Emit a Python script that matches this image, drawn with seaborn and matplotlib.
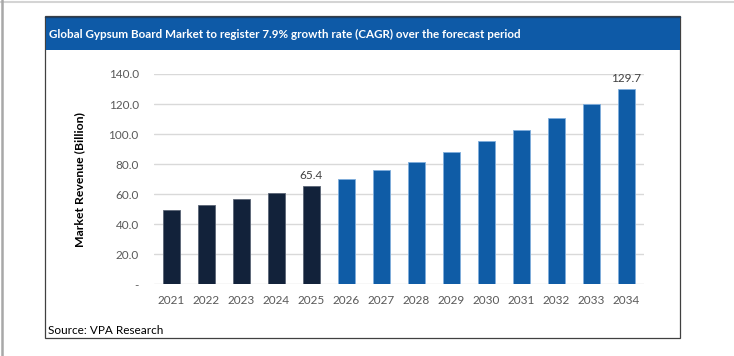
import matplotlib
matplotlib.use("Agg")
import matplotlib.pyplot as plt
import pandas as pd
import seaborn as sns
from matplotlib.patches import Rectangle
from matplotlib.lines import Line2D

# Data
years = ["2021", "2022", "2023", "2024", "2025", "2026", "2027",
         "2028", "2029", "2030", "2031", "2032", "2033", "2034"]
revenue = [49.3, 52.7, 56.7, 60.9, 65.4, 70.2, 75.9,
           81.6, 88.3, 95.3, 102.9, 111.0, 119.8, 129.7]
phase = ["Historic"] * 5 + ["Forecast"] * 9
labelled = {"2025": "65.4", "2034": "129.7"}

df = pd.DataFrame({"year": years, "revenue": revenue, "phase": phase})

sns.set_style("white")
plt.rcParams["font.family"] = ["Lato", "DejaVu Sans"]

W, H = 734, 356
fig = plt.figure(figsize=(W / 100, H / 100), dpi=100)
ax = fig.add_axes([154 / W, 1 - 284.3 / H, 490 / W, 210.3 / H])

sns.barplot(data=df, x="year", y="revenue", hue="phase",
            palette={"Historic": "#12223A", "Forecast": "#0F5CA6"},
            dodge=False, width=0.51, saturation=1, legend=False, ax=ax)

for p in ax.patches:
    fc = p.get_facecolor()
    if fc[2] > 0.5:
        p.set_edgecolor("#7FAEDC")
    else:
        p.set_edgecolor("#5A6475")
    p.set_linewidth(0.6)

# value labels
for i, y in enumerate(years):
    if y in labelled:
        ax.text(i, revenue[i] + 3.5, labelled[y], ha="center", va="bottom",
                fontsize=8.5, color="#404040")

ax.set_ylim(0, 140)
ax.set_xlim(-0.5, 13.5)
ax.set_yticks(range(0, 141, 20))
ax.set_yticklabels(["-"] + ["%.1f" % v for v in range(20, 141, 20)])
ax.yaxis.grid(True, color="#D9D9D9", linewidth=1)
ax.set_axisbelow(True)
sns.despine(ax=ax, left=True, top=True, right=True, bottom=True)
ax.tick_params(axis="both", length=0, labelsize=8.5, labelcolor="#595959")
ax.tick_params(axis="y", pad=11)
ax.tick_params(axis="x", pad=8)
ax.set_xlabel("")
ax.set_ylabel("Market Revenue (Billion)", fontsize=8.8, fontweight="bold",
              color="black")
ax.yaxis.set_label_coords((85 - 154) / 490, 0.5)

# outer page lines
fig.add_artist(Line2D([0, 1], [1 - 1.5 / H, 1 - 1.5 / H], color="#D4D4D4", lw=1.5))
fig.add_artist(Line2D([2 / W, 2 / W], [0, 1], color="#A8A8A8", lw=1.8))

# inner frame
fig.add_artist(Rectangle((45 / W, 1 - 338 / H), 635 / W, 322 / H, fill=False,
                         edgecolor="#404040", lw=0.9))
# title bar
fig.add_artist(Rectangle((45.5 / W, 1 - 50 / H), 634.5 / W, 33.5 / H,
                         facecolor="#0E5AA7", edgecolor="none"))
fig.add_artist(Line2D([45 / W, 680 / W], [1 - 16.5 / H, 1 - 16.5 / H],
                      color="#1B3F66", lw=1))
fig.text(49 / W, 1 - 34 / H,
         "Global Gypsum Board Market to register 7.9% growth rate (CAGR) over the forecast period",
         color="white", fontsize=8.4, fontweight="bold", va="center", ha="left")

fig.text(48 / W, 1 - 331 / H, "Source: VPA Research", color="black",
         fontsize=8.5, va="center", ha="left")

fig.savefig("out.png", dpi=100, facecolor="white")
